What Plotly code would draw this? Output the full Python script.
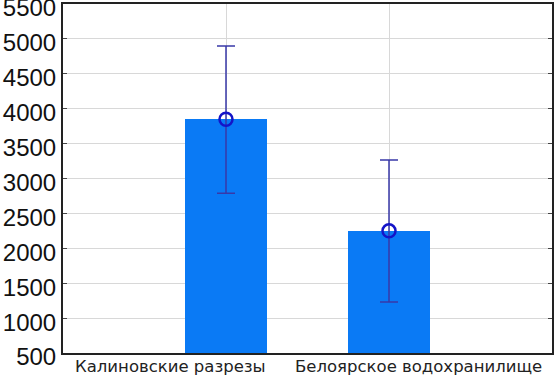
import plotly.graph_objects as go

categories = ["Калиновские разрезы", "Белоярское водохранилище"]
means = [3850, 2250]
err_upper = [4900, 3265]
err_lower = [2790, 1230]
y_ticks = [500, 1000, 1500, 2000, 2500, 3000, 3500, 4000, 4500, 5000, 5500]

xpos = [1, 2]
label_shift = [-56, 29]
plus = [u - m for u, m in zip(err_upper, means)]
minus = [m - l for m, l in zip(means, err_lower)]

fig = go.Figure()
fig.add_trace(go.Bar(
    x=xpos, y=[m - 500 for m in means], base=500, width=0.5,
    marker=dict(color="#0a7af5", line=dict(width=0)),
    showlegend=False, hoverinfo="skip",
))
fig.add_trace(go.Scatter(
    x=xpos, y=means, mode="markers",
    marker=dict(symbol="circle-open", size=13, color="#1414c8", line=dict(width=2.5, color="#1414c8")),
    error_y=dict(type="data", symmetric=False, array=plus, arrayminus=minus,
                 color="#3838a8", thickness=1.5, width=9),
    showlegend=False,
))

for xp, name, sh in zip(xpos, categories, label_shift):
    fig.add_annotation(
        x=xp, y=0, xref="x", yref="paper", yanchor="top", yshift=-2,
        xshift=sh, text=name, showarrow=False,
        font=dict(family="DejaVu Sans", size=16.5, color="#222"),
    )

fig.update_layout(
    width=555, height=378,
    margin=dict(l=63, r=3, t=4, b=25),
    paper_bgcolor="white", plot_bgcolor="white",
    font=dict(family="Liberation Sans, Arial, sans-serif", color="#111"),
    bargap=0,
)
fig.update_xaxes(
    range=[0, 3], tickvals=xpos, showticklabels=False, automargin=False,
    showgrid=True, gridcolor="#d8d8d8", gridwidth=1,
    showline=True, linecolor="#222", linewidth=2, mirror=True,
    ticks="", zeroline=False,
)
fig.update_yaxes(
    range=[500, 5500], tickvals=y_ticks, ticktext=[str(v) for v in y_ticks],
    tickfont=dict(family="Liberation Sans, Arial", size=24, color="#111"),
    ticklabeloverflow="allow", ticklabelshift=4,
    showgrid=True, gridcolor="#d8d8d8", gridwidth=1, automargin=False,
    showline=True, linecolor="#222", linewidth=2, mirror="ticks",
    ticks="inside", ticklen=4, tickcolor="#444", zeroline=False,
)

fig.write_html("out.html", config={"displayModeBar": False},
               post_script="document.body.style.margin='0';")
